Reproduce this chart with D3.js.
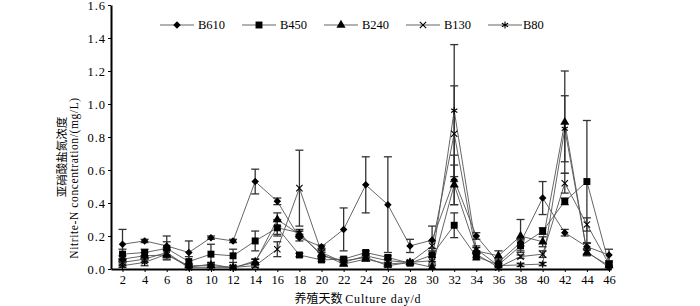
<!DOCTYPE html>
<html><head><meta charset="utf-8">
<script src="https://cdn.jsdelivr.net/npm/d3@7"></script>
<style>html,body{margin:0;padding:0;background:#fff}svg{display:block}</style>
</head><body>
<svg id="c" width="700" height="306"></svg>
<script>
const days = [2,4,6,8,10,12,14,16,18,20,22,24,26,28,30,32,34,36,38,40,42,44,46];
const yTicks = [0,0.2,0.4,0.6,0.8,1.0,1.2,1.4,1.6];
const seriesNames = ["B610","B450","B240","B130","B80"];
const B610 = [0.15,0.17,0.14,0.10,0.19,0.17,0.53,0.41,0.19,0.135,0.24,0.51,0.39,0.14,0.175,0.54,0.20,0.04,0.16,0.43,0.22,0.135,0.085];
const B610err = [0.09,0.01,0.06,0.07,0.01,0.01,0.075,0.02,0.02,0.01,0.13,0.17,0.29,0.04,0.085,0.15,0.02,0.02,0.02,0.10,0.02,0.02,0.035];
const B450 = [0.09,0.10,0.125,0.045,0.09,0.08,0.17,0.25,0.085,0.055,0.06,0.10,0.07,0.035,0.085,0.265,0.075,0.025,0.14,0.23,0.41,0.53,0.03];
const B450err = [0.03,0.02,0.04,0.03,0.06,0.04,0.06,0.05,0.01,0.01,0.01,0.01,0.01,0.01,0.04,0.075,0.02,0.01,0.03,0.02,0.02,0.37,0.01];
const B240 = [0.06,0.08,0.085,0.02,0.02,0.01,0.04,0.30,0.21,0.09,0.03,0.06,0.03,0.04,0.01,0.51,0.11,0.08,0.20,0.165,0.89,0.10,0.02];
const B240err = [0.02,0.02,0.03,0.01,0.01,0.01,0.02,0.04,0.02,0.02,0.01,0.01,0.01,0.01,0.01,0.12,0.02,0.03,0.10,0.03,0.31,0.02,0.01];
const B130 = [0.04,0.06,0.10,0.01,0.01,0.01,0.02,0.12,0.49,0.10,0.04,0.08,0.05,0.04,0.14,0.82,0.09,0.01,0.075,0.09,0.52,0.27,0.03];
const B130err = [0.02,0.02,0.03,0.01,0.01,0.01,0.01,0.045,0.23,0.02,0.01,0.01,0.01,0.01,0.03,0.29,0.02,0.01,0.01,0.02,0.06,0.04,0.01];
const B80 = [0.02,0.04,0.09,0.01,0.03,0.005,0.05,0.25,0.22,0.08,0.05,0.07,0.02,0.04,0.05,0.96,0.12,0.02,0.025,0.03,0.85,0.105,0.01];
const B80err = [0.01,0.02,0.03,0.01,0.01,0.005,0.01,0.04,0.02,0.02,0.01,0.01,0.01,0.01,0.02,0.40,0.02,0.01,0.01,0.01,0.20,0.02,0.01];

const values = [B610,B450,B240,B130,B80];
const errors = [B610err,B450err,B240err,B130err,B80err];
const symbols = [d3.symbolDiamond2, d3.symbolSquare, d3.symbolTriangle, d3.symbolX, d3.symbolAsterisk];
const symSize = [36,48,36,28,36];
const symFill = [true,true,true,false,false];

const svg = d3.select("#c");
const x = d3.scaleLinear().domain([0.96,46.18]).range([111,611]);
const y = d3.scaleLinear().domain([0,1.6]).range([269,5]);
const lat = "'Liberation Serif','DejaVu Serif',serif";
const cjk = "'Noto Sans CJK SC',sans-serif";

// lines
const line = d3.line().x((d,i)=>x(days[i])).y(d=>y(d));
values.forEach((v,k)=>{
  svg.append("path").attr("d",line(v)).attr("fill","none").attr("stroke","#555").attr("stroke-width",0.9);
});
// error bars
values.forEach((v,k)=>{
  const g = svg.append("g").attr("stroke","#333").attr("stroke-width",1.3);
  v.forEach((val,i)=>{
    const e = errors[k][i];
    const cx = x(days[i]);
    const top = y(val+e), bot = y(Math.max(0,val-e));
    g.append("line").attr("x1",cx).attr("x2",cx).attr("y1",top).attr("y2",bot);
    g.append("line").attr("x1",cx-4).attr("x2",cx+4).attr("y1",top).attr("y2",top);
    if (val-e>0) g.append("line").attr("x1",cx-4).attr("x2",cx+4).attr("y1",bot).attr("y2",bot);
  });
});
// markers
values.forEach((v,k)=>{
  const sym = d3.symbol().type(symbols[k]).size(symSize[k]);
  svg.append("g").selectAll("path").data(v).join("path")
    .attr("d",sym)
    .attr("transform",(d,i)=>`translate(${x(days[i])},${y(d)})`)
    .attr("fill",symFill[k]?"#000":"none")
    .attr("stroke","#000").attr("stroke-width",symFill[k]?0:1.1);
});

// axes
const yAxis = d3.axisLeft(y).tickValues(yTicks).tickFormat(d3.format(".1f")).tickSize(3).tickSizeOuter(0);
const gy = svg.append("g").attr("transform","translate(111,0)").call(yAxis);
gy.select(".domain").attr("stroke","#000").attr("stroke-width",2);
gy.selectAll("text").attr("font-family",lat).attr("font-size",12.5).attr("letter-spacing","1px").attr("fill","#000").attr("x",-5);

const xAxis = d3.axisBottom(x).tickValues(days).tickSize(3).tickSizeOuter(0);
const gx = svg.append("g").attr("transform","translate(0,269)").call(xAxis);
gx.select(".domain").attr("stroke","#000").attr("stroke-width",2);
gx.selectAll("text").attr("font-family",lat).attr("font-size",12.5).attr("fill","#000").attr("dy","0.75em");

// axis titles
svg.append("text").attr("transform","translate(62,157) rotate(-90)").attr("text-anchor","middle")
  .attr("font-family",cjk).attr("font-size",11.5).attr("dy","0.35em").text("亚硝酸盐氮浓度");
svg.append("text").attr("transform","translate(74,178) rotate(-90)").attr("text-anchor","middle")
  .attr("font-family",lat).attr("font-size",11.5).attr("letter-spacing","0.6px").attr("dy","0.35em").text("Nitrite-N concentration/(mg/L)");
const xt = svg.append("text").attr("x",358).attr("y",302.5).attr("text-anchor","middle").attr("font-size",12);
xt.append("tspan").attr("font-family",cjk).text("养殖天数 ");
xt.append("tspan").attr("font-family",lat).attr("letter-spacing","0.8px").text("Culture day/d");

// legend
const legX = [160,242,324,406,488];
const legG = svg.append("g");
seriesNames.forEach((n,k)=>{
  const lx = legX[k];
  legG.append("line").attr("x1",lx).attr("x2",lx+34).attr("y1",25).attr("y2",25).attr("stroke","#555").attr("stroke-width",0.9);
  legG.append("path").attr("d",d3.symbol().type(symbols[k]).size(symSize[k])())
    .attr("transform",`translate(${lx+17},25)`)
    .attr("fill",symFill[k]?"#000":"none").attr("stroke","#000").attr("stroke-width",symFill[k]?0:1.1);
  legG.append("text").attr("x",lx+(k==4?35:38)).attr("y",25).attr("dy","0.35em")
    .attr("font-family",lat).attr("font-size",12.5).text(n);
});
</script>
</body></html>
